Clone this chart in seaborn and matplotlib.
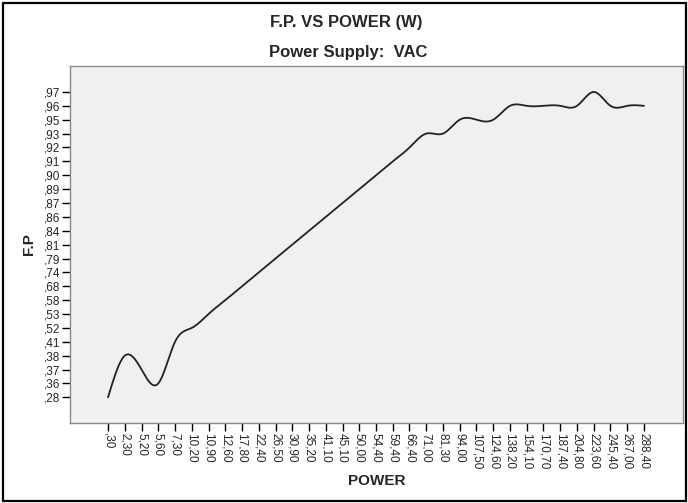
import numpy as np
import pandas as pd
import matplotlib
matplotlib.use("Agg")
import matplotlib.pyplot as plt
import matplotlib.patches as patches
import seaborn as sns

# power readings (W) - categorical x axis
power = [0.30, 2.30, 5.20, 5.60, 7.30, 10.20, 10.90, 12.60, 17.80, 22.40, 26.50,
         30.90, 35.20, 41.10, 45.10, 50.00, 54.40, 59.40, 66.40, 71.00, 81.30,
         94.00, 107.50, 124.60, 138.20, 154.10, 170.70, 187.40, 204.80, 223.60,
         245.40, 267.00, 288.40]
# power factor for each reading - categorical y axis
fp = [0.28, 0.38, 0.37, 0.36, 0.41, 0.52, 0.53, 0.58, 0.68, 0.74, 0.79,
      0.81, 0.84, 0.86, 0.87, 0.89, 0.90, 0.91, 0.92, 0.93, 0.93,
      0.95, 0.95, 0.95, 0.96, 0.96, 0.96, 0.96, 0.96, 0.97,
      0.96, 0.96, 0.96]

title = "F.P. VS POWER (W)"
subtitle = "Power Supply:  VAC"


def spss_label(v):
    s = f"{v:.2f}".replace(".", ",")
    return s[1:] if s.startswith("0") else s


def natural_spline(x, y, n=600):
    """Smooth curve through the points (natural cubic spline), for drawing only."""
    x = np.asarray(x, float)
    y = np.asarray(y, float)
    h = np.diff(x)
    m = len(x)
    A = np.zeros((m, m))
    b = np.zeros(m)
    A[0, 0] = A[-1, -1] = 1
    for i in range(1, m - 1):
        A[i, i - 1] = h[i - 1]
        A[i, i] = 2 * (h[i - 1] + h[i])
        A[i, i + 1] = h[i]
        b[i] = 6 * ((y[i + 1] - y[i]) / h[i] - (y[i] - y[i - 1]) / h[i - 1])
    M = np.linalg.solve(A, b)
    xs = np.linspace(x[0], x[-1], n)
    k = np.clip(np.searchsorted(x, xs) - 1, 0, m - 2)
    t0 = x[k + 1] - xs
    t1 = xs - x[k]
    hk = h[k]
    ys = (M[k] * t0**3 / (6 * hk) + M[k + 1] * t1**3 / (6 * hk)
          + (y[k] / hk - M[k] * hk / 6) * t0 + (y[k + 1] / hk - M[k + 1] * hk / 6) * t1)
    return xs, ys


sns.set_style("white")
plt.rcParams["font.family"] = ["Liberation Sans", "DejaVu Sans"]

x_cats = [spss_label(p) for p in power]
y_levels = sorted(set(fp))
y_cats = [spss_label(v) for v in y_levels]

df = pd.DataFrame({
    "xpos": np.arange(len(power)),
    "ypos": [y_levels.index(v) for v in fp],
})
xs, ys = natural_spline(df["xpos"], df["ypos"])
curve = pd.DataFrame({"x": xs, "y": ys})

fig = plt.figure(figsize=(6.88, 5.03), dpi=100)
ax = fig.add_axes([70 / 688, 80 / 503, 613 / 688, 357 / 503])
ax.set_facecolor("#f0f0f0")

sns.lineplot(data=curve, x="x", y="y", ax=ax, color="#222222", linewidth=1.3,
             estimator=None, sort=False)

ax.set_xticks(range(len(x_cats)))
ax.set_xticklabels(x_cats, rotation=-90, fontsize=8.5)
ax.set_yticks(range(len(y_cats)))
ax.set_yticklabels(y_cats, fontsize=8.5)
ax.set_xlim(-2.27, len(x_cats) - 1 + 2.33)
ax.set_ylim(-1.85, len(y_cats) - 1 + 1.87)
ax.tick_params(axis="both", direction="out", length=6, width=1, color="black",
               bottom=True, left=True, pad=1)

for sp in ax.spines.values():
    sp.set_color("#8a8a8a")
    sp.set_linewidth(1)

ax.set_xlabel("POWER", fontsize=11, fontweight="bold")
ax.set_ylabel("F.P", fontsize=11, fontweight="bold")
ax.xaxis.label.set_va("center")
ax.yaxis.label.set_va("center")
ax.xaxis.set_label_coords(0.5, -(481 - 423) / 357)
ax.yaxis.set_label_coords(-(70 - 29) / 613, 0.5)

fig.text(346 / 688, 1 - 22 / 503, title, ha="center", va="center",
         fontsize=12, fontweight="bold")
fig.text(348 / 688, 1 - 53 / 503, subtitle, ha="center", va="center",
         fontsize=12, fontweight="bold")

fig.patches.append(patches.Rectangle((3 / 688, 2 / 503), 683 / 688, 498 / 503,
                                     transform=fig.transFigure, fill=False,
                                     edgecolor="black", linewidth=1.6))

fig.savefig("out.png", dpi=100)
